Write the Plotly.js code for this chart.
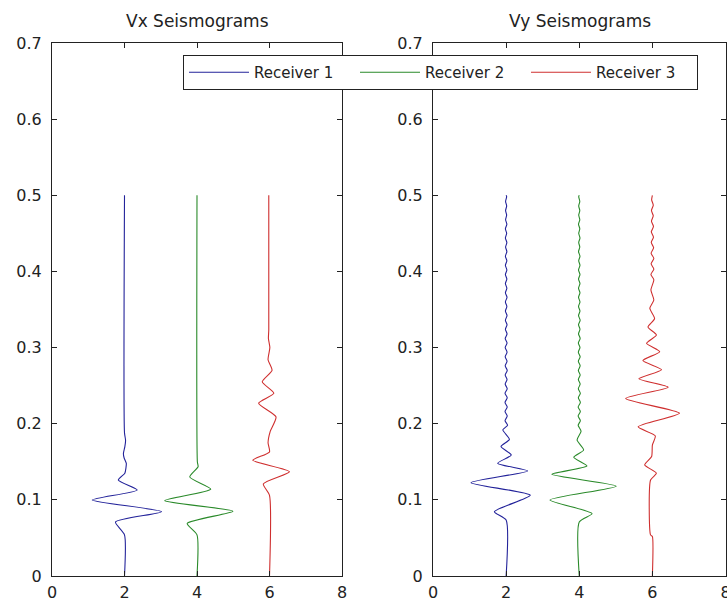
<!DOCTYPE html>
<html>
<head>
<meta charset="utf-8">
<script src="https://cdn.plot.ly/plotly-3.0.1.min.js"></script>
<style>
  html, body { margin: 0; padding: 0; background: #fff; }
  #chart { width: 727px; height: 605px; }
</style>
</head>
<body>
<div id="chart"></div>
<script>
// Receiver trace offsets along the x axis
const offsets = [2, 4, 6];
const receiverNames = ['Receiver 1', 'Receiver 2', 'Receiver 3'];
const receiverColors = ['#23239a', '#2a8a2a', '#cf2f2f'];

// ---- Vx seismograms: time (s) and amplitude ----
const vxT1 = [0, 0.054, 0.071, 0.0845, 0.0998, 0.113, 0.126, 0.135, 0.142, 0.148, 0.155, 0.161, 0.170, 0.178, 0.188, 0.5];
const vxA1 = [0, 0, -0.25, 1.02, -0.89, 0.35, -0.17, 0.01, 0.04, 0.05, -0.01, -0.03, 0.01, 0.03, 0, 0];

const vxT2 = [0, 0.054, 0.069, 0.085, 0.099, 0.114, 0.130, 0.1435, 0.150, 0.5];
const vxA2 = [0, 0, -0.27, 0.99, -0.89, 0.38, -0.20, 0.03, 0.01, 0];

const vxT3 = [0, 0.106, 0.121, 0.137, 0.152, 0.163, 0.175, 0.190, 0.209, 0.227, 0.240, 0.255, 0.270, 0.284, 0.300, 0.312, 0.323, 0.5];
const vxA3 = [0, 0, -0.17, 0.55, -0.46, 0, -0.04, 0.02, 0.18, -0.30, 0.12, -0.20, 0.07, -0.04, 0.01, -0.03, -0.02, -0.02];

// ---- Vy seismograms: main arrivals ----
const vyT1 = [0, 0.0735, 0.0845, 0.106, 0.1226, 0.138, 0.148, 0.159, 0.170, 0.1795, 0.192];
const vyA1 = [0, 0, -0.32, 0.66, -0.96, 0.59, -0.23, 0.14, -0.14, 0.09, -0.09];

const vyT2 = [0, 0.071, 0.082, 0.0998, 0.118, 0.1335, 0.1445, 0.156, 0.1655, 0.1786, 0.190];
const vyA2 = [0, 0, 0.35, -0.80, 1.01, -0.75, 0.21, -0.15, 0.12, -0.06, 0.05];

const vyT3 = [0, 0.052, 0.054, 0.126, 0.135, 0.146, 0.157, 0.172, 0.184, 0.196, 0.2137, 0.233, 0.248, 0.259, 0.271, 0.283, 0.2946, 0.3056, 0.3165, 0.327, 0.338, 0.3516, 0.3625, 0.3756, 0.389];
const vyA3 = [0, 0, -0.05, -0.05, 0.11, -0.21, -0.02, 0, 0.08, -0.39, 0.74, -0.73, 0.43, -0.37, 0.25, -0.26, 0.20, -0.16, 0.11, -0.12, 0.06, -0.07, 0.04, -0.04, 0.04];

// ---- Vy late codas (faint ringing up to 0.5 s) ----
const codaT12 = [0.198, 0.204, 0.210, 0.216, 0.222, 0.228, 0.234, 0.240, 0.246, 0.252, 0.258, 0.264, 0.270, 0.276, 0.282, 0.288, 0.294, 0.300, 0.306, 0.312, 0.318, 0.324, 0.330, 0.336, 0.342, 0.348, 0.354, 0.360, 0.366, 0.372, 0.378, 0.384, 0.390, 0.396, 0.402, 0.408, 0.414, 0.420, 0.426, 0.432, 0.438, 0.444, 0.450, 0.456, 0.462, 0.468, 0.474, 0.480, 0.486, 0.492, 0.498, 0.5];
const codaA1 = [0.04, -0.03, 0.03, -0.03, 0.03, -0.03, 0.03, -0.03, 0.03, -0.025, 0.025, -0.025, 0.03, -0.025, 0.025, -0.025, 0.025, -0.025, 0.025, -0.025, 0.025, -0.02, 0.025, -0.02, 0.025, -0.02, 0.02, -0.02, 0.025, -0.02, 0.02, -0.02, 0.02, -0.02, 0.02, -0.02, 0.02, -0.02, 0.02, -0.015, 0.02, -0.02, 0.015, -0.02, 0.02, -0.015, 0.015, -0.015, 0.015, -0.015, 0.015, 0];
const codaA2 = [-0.03, 0.03, -0.03, 0.03, -0.03, 0.03, -0.025, 0.03, -0.025, 0.025, -0.025, 0.025, -0.025, 0.025, -0.025, 0.025, -0.025, 0.02, -0.025, 0.025, -0.02, 0.02, -0.02, 0.025, -0.02, 0.02, -0.02, 0.02, -0.02, 0.02, -0.02, 0.02, -0.02, 0.02, -0.02, 0.02, -0.015, 0.02, -0.02, 0.015, -0.015, 0.02, -0.015, 0.015, -0.02, 0.015, -0.015, 0.015, -0.015, 0.015, -0.015, 0];

const codaT3 = [0.396, 0.403, 0.410, 0.417, 0.424, 0.431, 0.438, 0.445, 0.452, 0.459, 0.466, 0.473, 0.480, 0.487, 0.494, 0.5];
const codaA3 = [-0.04, 0.04, -0.035, 0.04, -0.035, 0.035, -0.03, 0.03, -0.03, 0.03, -0.025, 0.025, -0.025, 0.025, -0.02, 0];

const vxSets = [[vxT1, vxA1], [vxT2, vxA2], [vxT3, vxA3]];
const vySets = [
  [vyT1.concat(codaT12), vyA1.concat(codaA1)],
  [vyT2.concat(codaT12), vyA2.concat(codaA2)],
  [vyT3.concat(codaT3), vyA3.concat(codaA3)]
];

const traceLine = color => ({ color: color, width: 1.1, shape: 'spline', smoothing: 0.6 });

const traces = [];
vxSets.forEach(([t, a], i) => {
  traces.push({
    x: a.map(v => v + offsets[i]), y: t,
    type: 'scatter', mode: 'lines',
    name: receiverNames[i], legendgroup: 'r' + i,
    line: traceLine(receiverColors[i]),
    xaxis: 'x', yaxis: 'y'
  });
});
vySets.forEach(([t, a], i) => {
  traces.push({
    x: a.map(v => v + offsets[i]), y: t,
    type: 'scatter', mode: 'lines',
    name: receiverNames[i], legendgroup: 'r' + i, showlegend: false,
    line: traceLine(receiverColors[i]),
    xaxis: 'x2', yaxis: 'y2'
  });
});

const W = 727, H = 605;
const fontFamily = 'DejaVu Sans, Liberation Sans, sans-serif';
const axisColor = '#222';

function xAxis(domain, anchor) {
  return {
    domain: domain, anchor: anchor, range: [0, 8], tickvals: [0, 2, 4, 6, 8],
    showgrid: false, zeroline: false, showline: true, linecolor: axisColor, linewidth: 1,
    mirror: 'ticks', ticks: 'inside', ticklen: 5, tickcolor: axisColor,
    ticklabelstandoff: 2, ticklabeloverflow: 'allow',
    tickfont: { family: fontFamily, size: 16, color: '#222' }
  };
}
function yAxis(domain, anchor) {
  return {
    domain: domain, anchor: anchor, range: [0, 0.7],
    tickvals: [0, 0.1, 0.2, 0.3, 0.4, 0.5, 0.6, 0.7],
    ticktext: ['0', '0.1', '0.2', '0.3', '0.4', '0.5', '0.6', '0.7'],
    showgrid: false, zeroline: false, showline: true, linecolor: axisColor, linewidth: 1,
    mirror: 'ticks', ticks: 'inside', ticklen: 5, tickcolor: axisColor,
    ticklabelstandoff: 6, ticklabeloverflow: 'allow',
    tickfont: { family: fontFamily, size: 16, color: '#222' }
  };
}

const yDom = [(H - 576) / H, (H - 43) / H];
const layout = {
  width: W, height: H,
  margin: { l: 0, r: 0, t: 0, b: 0 },
  paper_bgcolor: '#fff', plot_bgcolor: '#fff',
  font: { family: fontFamily, size: 16, color: '#222' },
  xaxis: xAxis([52 / W, 342 / W], 'y'),
  yaxis: yAxis(yDom, 'x'),
  xaxis2: xAxis([433 / W, 725.5 / W], 'y2'),
  yaxis2: yAxis(yDom, 'x2'),
  showlegend: true,
  legend: {
    orientation: 'h', x: 183 / W, y: 1 - 55 / H, xanchor: 'left', yanchor: 'top',
    bgcolor: '#fff', bordercolor: axisColor, borderwidth: 1,
    font: { family: fontFamily, size: 15, color: '#222' },
    itemwidth: 60, entrywidth: 96, traceorder: 'normal'
  },
  annotations: [
    { text: 'Vx Seismograms', xref: 'paper', yref: 'paper', x: 197 / W, y: 1 - 21 / H,
      xanchor: 'center', yanchor: 'middle', showarrow: false,
      font: { family: fontFamily, size: 17, color: '#222' } },
    { text: 'Vy Seismograms', xref: 'paper', yref: 'paper', x: 579.5 / W, y: 1 - 21 / H,
      xanchor: 'center', yanchor: 'middle', showarrow: false,
      font: { family: fontFamily, size: 17, color: '#222' } }
  ]
};

Plotly.newPlot('chart', traces, layout, { displayModeBar: false, staticPlot: true });
</script>
</body>
</html>
